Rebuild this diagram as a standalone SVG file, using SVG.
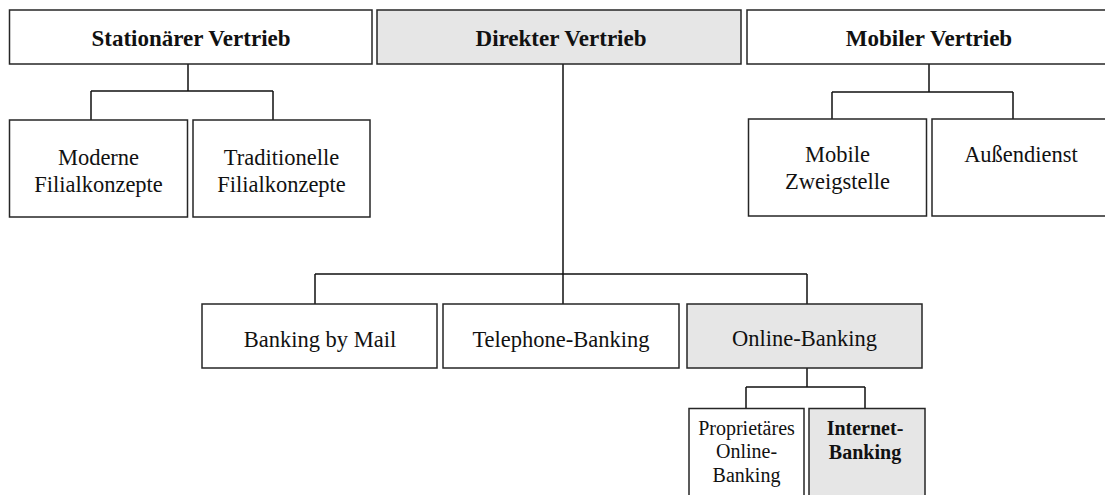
<svg xmlns="http://www.w3.org/2000/svg" width="1105" height="495" viewBox="0 0 1105 495">
<style>
.box{fill:#ffffff;stroke:#262626;stroke-width:1.5}
.gray{fill:#e6e6e6;stroke:#262626;stroke-width:1.5}
.t{font-family:"Liberation Serif","Times New Roman",serif;font-size:22.5px;fill:#111;text-anchor:middle}
.b{font-weight:bold;font-size:23px}
.s{font-size:20px}
.c{fill:none;stroke:#111;stroke-width:1.5}
</style>
<rect width="1105" height="495" fill="#ffffff"/>
<g id="connectors">
<path class="c" d="M188,64 V91 M91,91 H273 M91,91 V120 M273,91 V120"/>
<path class="c" d="M929,64 V92 M832,92 H1013 M832,92 V119 M1013,92 V119"/>
<path class="c" d="M563,64 V274 M315,274 H807 M315,274 V304 M563,274 V304 M807,274 V304"/>
<path class="c" d="M807,368 V387 M746,387 H865 M746,387 V408 M865,387 V408"/>
</g>
<g id="stationaer">
<rect class="box" x="9.5" y="10" width="362.5" height="54"/>
<text class="t b" x="191" y="46">Stationärer Vertrieb</text>
</g>
<g id="direkt">
<rect class="gray" x="377" y="10" width="364" height="54"/>
<text class="t b" x="561" y="46">Direkter Vertrieb</text>
</g>
<g id="mobil">
<rect class="box" x="747" y="10" width="364" height="54"/>
<text class="t b" x="929" y="46">Mobiler Vertrieb</text>
</g>
<g id="moderne">
<rect class="box" x="9.5" y="120" width="178" height="97"/>
<text class="t" x="98.5" y="165">Moderne</text>
<text class="t" x="98.5" y="192">Filialkonzepte</text>
</g>
<g id="traditionelle">
<rect class="box" x="193" y="120" width="177" height="97"/>
<text class="t" x="281.5" y="165">Traditionelle</text>
<text class="t" x="281.5" y="192">Filialkonzepte</text>
</g>
<g id="mobile-zweigstelle">
<rect class="box" x="748.5" y="119" width="178" height="97"/>
<text class="t" x="837.5" y="162">Mobile</text>
<text class="t" x="837.5" y="189">Zweigstelle</text>
</g>
<g id="aussendienst">
<rect class="box" x="932" y="119" width="180" height="97"/>
<text class="t" x="1021" y="162">Außendienst</text>
</g>
<g id="mail">
<rect class="box" x="202" y="304" width="235" height="64"/>
<text class="t" x="320" y="347">Banking by Mail</text>
</g>
<g id="telephone">
<rect class="box" x="443" y="304" width="236" height="64"/>
<text class="t" x="561" y="347">Telephone-Banking</text>
</g>
<g id="online">
<rect class="gray" x="687" y="304" width="235" height="64"/>
<text class="t" x="804.5" y="346">Online-Banking</text>
</g>
<g id="proprietaer">
<rect class="box" x="689" y="408.5" width="115" height="100"/>
<text class="t s" x="746.5" y="435">Proprietäres</text>
<text class="t s" x="746.5" y="458">Online-</text>
<text class="t s" x="746.5" y="482">Banking</text>
</g>
<g id="internet">
<rect class="gray" x="809" y="408.5" width="116" height="100"/>
<text class="t s b" x="865" y="435" style="font-size:20px">Internet-</text>
<text class="t s b" x="865" y="459" style="font-size:20px">Banking</text>
</g>
</svg>
